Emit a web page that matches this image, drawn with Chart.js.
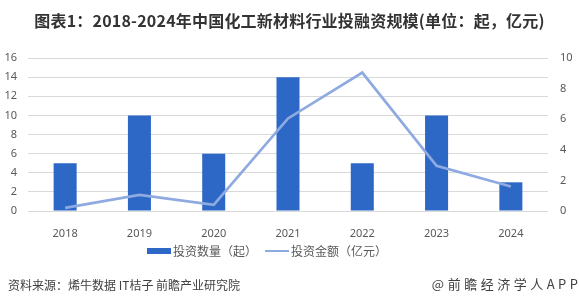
<!DOCTYPE html>
<html><head><meta charset="utf-8">
<script src="https://cdn.jsdelivr.net/npm/chart.js@4"></script>
<style>
html,body{margin:0;padding:0;background:#fff;}
#wrap{position:relative;width:579px;height:305px;overflow:hidden;font-family:"Noto Sans CJK SC","Noto Sans",sans-serif;}
#title{position:absolute;left:0;top:9px;width:579px;text-align:center;font-size:16px;font-weight:bold;color:#333;line-height:22px;letter-spacing:0.2px;}
#c{position:absolute;left:0;top:0;}
.leg{position:absolute;top:243px;font-size:12px;color:#595959;line-height:16px;display:flex;align-items:center;}
.sw{display:inline-block;width:24px;margin-right:2px;}
#src{position:absolute;left:8px;top:276px;font-size:12px;color:#404040;letter-spacing:0px;line-height:18px;}
#app{position:absolute;right:1px;top:275px;font-size:13px;color:#404040;letter-spacing:3.5px;line-height:18px;margin-right:-3.5px;}
</style></head>
<body><div id="wrap">
<canvas id="c" width="579" height="305"></canvas>
<div id="title">图表1：2018-2024年中国化工新材料行业投融资规模(单位：起，亿元)</div>
<div class="leg" style="left:147px"><span class="sw" style="height:6px;background:#2e68c6"></span>投资数量（起）</div>
<div class="leg" style="left:265px"><span class="sw" style="height:2px;background:#8eaae0"></span>投资金额（亿元）</div>
<div id="src">资料来源：烯牛数据 IT桔子 前瞻产业研究院</div>
<div id="app">@前瞻经济学人APP</div>
</div>
<script>
const categories = ["2018","2019","2020","2021","2022","2023","2024"];
const dealCounts = [5,10,6,14,5,10,3];
const dealAmounts = [0.2,1.05,0.4,6.05,9.05,2.95,1.6];
const leftTicks = [0,2,4,6,8,10,12,14,16];
const rightTicks = [0,2,4,6,8,10];

new Chart(document.getElementById('c'), {
  data: {
    labels: categories,
    datasets: [
      {type:'line', label:'投资金额（亿元）', data: dealAmounts, yAxisID:'y1',
       borderColor:'#8eaae0', backgroundColor:'#8eaae0', borderWidth:2.75, pointRadius:0, tension:0, order:0},
      {type:'bar', label:'投资数量（起）', data: dealCounts, yAxisID:'y',
       backgroundColor:'#2e68c6', barPercentage:0.62, categoryPercentage:0.5, order:1}
    ]
  },
  options: {
    responsive:false, animation:false, devicePixelRatio:1,
    layout:{padding:{top:58,left:0,right:0,bottom:0}},
    plugins:{legend:{display:false}, tooltip:{enabled:false}},
    scales:{
      x:{grid:{display:false}, border:{display:false},
         ticks:{color:'#595959', font:{size:11, family:'"Noto Sans","Open Sans",sans-serif'}, padding:8},
         afterFit:(s)=>{s.height = 94;}},
      y:{position:'left', min:0, max:16,
         afterBuildTicks:(s)=>{s.ticks = leftTicks.map(v=>({value:v}));},
         grid:{color:'#d9d9d9', drawTicks:false}, border:{display:false},
         ticks:{color:'#595959', font:{size:11, family:'"Noto Sans","Open Sans",sans-serif'}, padding:11},
         afterFit:(s)=>{s.width = 28;}},
      y1:{position:'right', min:0, max:10,
         afterBuildTicks:(s)=>{s.ticks = rightTicks.map(v=>({value:v}));},
         grid:{display:false, drawTicks:false}, border:{display:false},
         ticks:{color:'#595959', font:{size:11, family:'"Noto Sans","Open Sans",sans-serif'}, padding:12},
         afterFit:(s)=>{s.width = 31;}}
    }
  }
});
</script>
</body></html>
